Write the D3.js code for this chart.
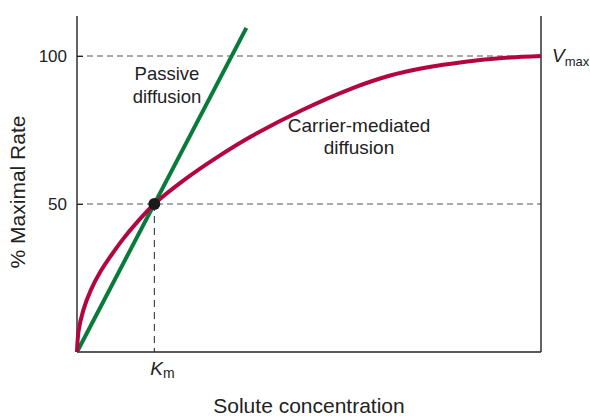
<!DOCTYPE html>
<html>
<head>
<meta charset="utf-8">
<script src="https://cdn.jsdelivr.net/npm/d3@7"></script>
<style>
  html, body { margin: 0; padding: 0; background: #fff; }
  svg { display: block; font-family: "Liberation Sans", Arial, Helvetica, sans-serif; }
</style>
</head>
<body>
<svg id="chart" width="590" height="416"></svg>
<script>
// Solute concentration in multiples of Km, rate in % of Vmax
const concentration = [0, 0.02, 0.08, 0.18, 0.3, 0.43, 0.6, 0.77, 1, 1.4, 1.8, 2.25, 2.9, 3.55, 4.05, 4.5, 5.0, 5.5, 6];
const carrierRate   = [0, 7, 14, 21, 27, 32.2, 38.3, 43.6, 50, 58.4, 65.6, 72.8, 81.6, 89, 93.4, 96.0, 98.0, 99.3, 100];
const passiveConc = [0, 2.19];
const passiveRate = [0, 109.5];
const km = 1;
const kmRate = 50;
const yTicks = [50, 100];

const svg = d3.select("#chart");
const plotLeft = 77, plotRight = 541, plotTop = 16, plotBottom = 352;

const x = d3.scaleLinear().domain([0, 6]).range([plotLeft, plotRight]);
const y = d3.scaleLinear().domain([0, 100]).range([plotBottom, 56]);

// reference lines
svg.selectAll("line.ref").data(yTicks).join("line")
  .attr("class", "ref")
  .attr("x1", plotLeft).attr("x2", plotRight)
  .attr("y1", d => y(d)).attr("y2", d => y(d))
  .attr("stroke", "#555").attr("stroke-width", 1)
  .attr("stroke-dasharray", "6,4");

svg.append("line")
  .attr("x1", x(km)).attr("x2", x(km))
  .attr("y1", y(kmRate)).attr("y2", plotBottom)
  .attr("stroke", "#222").attr("stroke-width", 1)
  .attr("stroke-dasharray", "7,5");

// axes frame
const frame = svg.append("g").attr("stroke", "#222").attr("stroke-width", 1.4);
frame.append("line").attr("x1", plotLeft).attr("x2", plotLeft).attr("y1", plotTop).attr("y2", plotBottom);
frame.append("line").attr("x1", plotLeft).attr("x2", plotRight).attr("y1", plotBottom).attr("y2", plotBottom);
frame.append("line").attr("x1", plotRight).attr("x2", plotRight).attr("y1", plotTop).attr("y2", plotBottom);

// y tick labels
const yAxis = d3.axisLeft(y).tickValues(yTicks).tickSize(0).tickPadding(10);
const gy = svg.append("g").attr("transform", `translate(${plotLeft},0)`).call(yAxis);
gy.select(".domain").remove();
gy.selectAll("text").attr("font-size", 17).attr("fill", "#222")
  .attr("font-family", "Liberation Sans, Arial, sans-serif");
gy.selectAll(".tick").append("line").attr("x2", 6).attr("stroke", "#222").attr("stroke-width", 1);

// passive diffusion
const passive = passiveConc.map((c, i) => [c, passiveRate[i]]);
svg.append("path")
  .datum(passive)
  .attr("d", d3.line().x(d => x(d[0])).y(d => y(d[1])))
  .attr("fill", "none").attr("stroke", "#087a3a").attr("stroke-width", 4);

// carrier-mediated diffusion
const carrier = concentration.map((c, i) => [c, carrierRate[i]]);
svg.append("path")
  .datum(carrier)
  .attr("d", d3.line().x(d => x(d[0])).y(d => y(d[1])).curve(d3.curveCatmullRom.alpha(0.5)))
  .attr("fill", "none").attr("stroke", "#b3053f").attr("stroke-width", 4);

svg.append("circle")
  .attr("cx", x(km)).attr("cy", y(kmRate)).attr("r", 6)
  .attr("fill", "#1a1a1a");

// labels
const txt = (xp, yp, s, size, anchor) => svg.append("text")
  .attr("x", xp).attr("y", yp).attr("font-size", size)
  .attr("text-anchor", anchor || "middle").attr("fill", "#222").text(s);

txt(167, 80, "Passive", 18.5);
txt(167, 103, "diffusion", 18.5);
txt(359, 132, "Carrier-mediated", 19);
txt(359, 154, "diffusion", 19);
txt(309, 413, "Solute concentration", 21);

svg.append("text")
  .attr("transform", "translate(25,192) rotate(-90)")
  .attr("text-anchor", "middle").attr("font-size", 21).attr("fill", "#222")
  .text("% Maximal Rate");

const kmLabel = svg.append("text").attr("x", x(km) - 4).attr("y", 375)
  .attr("text-anchor", "start").attr("fill", "#222");
kmLabel.append("tspan").attr("font-size", 19).attr("font-style", "italic").text("K");
kmLabel.append("tspan").attr("font-size", 14).attr("dy", 3).text("m");

const vLabel = svg.append("text").attr("x", 552).attr("y", 62)
  .attr("text-anchor", "start").attr("fill", "#222");
vLabel.append("tspan").attr("font-size", 19).attr("font-style", "italic").text("V");
vLabel.append("tspan").attr("font-size", 13).attr("dy", 4).text("max");
</script>
</body>
</html>
